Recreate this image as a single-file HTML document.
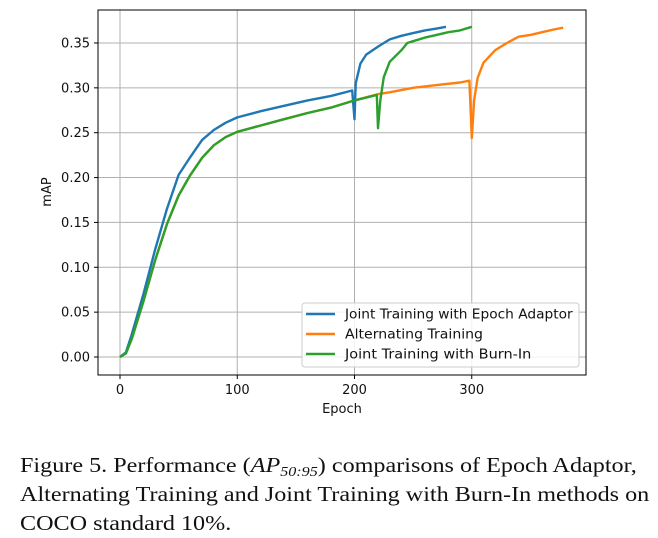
<!DOCTYPE html>
<html><head><meta charset="utf-8">
<style>
body{margin:0;background:#fff;width:658px;height:537px;overflow:hidden;position:relative}
svg{position:absolute;left:0;top:0}
.cap{position:absolute;left:20px;top:451px;font-family:"Liberation Serif",serif;font-size:21px;line-height:29px;color:#111;white-space:nowrap;transform:scaleX(1.15);transform-origin:0 0}
.cap sub{font-size:14px;line-height:0;vertical-align:-4px}
</style></head><body>
<svg width="658" height="440" font-family="DejaVu Sans, Liberation Sans, sans-serif">
<g id="grid"></g><g id="lines"></g><g id="axes"></g><g id="legend"></g>
</svg>
<div class="cap">Figure 5. Performance (<i>AP</i><sub><i>50:95</i></sub>) comparisons of Epoch Adaptor,<br>Alternating Training and Joint Training with Burn-In methods on<br>COCO standard 10%.</div>
<script>
const xTicks=[0,100,200,300];
const yTicks=[0.00,0.05,0.10,0.15,0.20,0.25,0.30,0.35];
const seriesNames=["Joint Training with Epoch Adaptor","Alternating Training","Joint Training with Burn-In"];
const blueEpochs=[0,5,10,20,30,40,50,60,70,80,90,100,120,140,160,180,198,200,201,205,210,220,230,240,250,260,270,278];
const blueMap=[0,0.005,0.025,0.07,0.12,0.165,0.203,0.223,0.242,0.253,0.261,0.267,0.274,0.280,0.286,0.291,0.297,0.265,0.305,0.327,0.337,0.346,0.354,0.358,0.361,0.364,0.366,0.368];
const orangeEpochs=[0,5,10,20,30,40,50,60,70,80,90,100,120,140,160,180,200,220,230,250,270,290,298,300,302,305,310,320,330,340,350,360,370,378];
const orangeMap=[0,0.004,0.02,0.062,0.108,0.148,0.18,0.203,0.222,0.236,0.245,0.251,0.258,0.265,0.272,0.278,0.286,0.293,0.295,0.300,0.303,0.306,0.308,0.244,0.286,0.311,0.328,0.342,0.350,0.357,0.359,0.362,0.365,0.367];
const greenEpochs=[0,5,10,20,30,40,50,60,70,80,90,100,120,140,160,180,200,219,220,222,225,230,240,245,250,260,270,280,290,300];
const greenMap=[0,0.004,0.02,0.062,0.108,0.148,0.18,0.203,0.222,0.236,0.245,0.251,0.258,0.265,0.272,0.278,0.286,0.292,0.255,0.286,0.312,0.329,0.342,0.350,0.352,0.356,0.359,0.362,0.364,0.368];
const colors=["#1f77b4","#ff7f0e","#2ca02c"];
const L=98,R=586,T=10,B=375;
const xs=e=>120+e*1.1725;
const ys=v=>357-v*897.2;
const NS="http://www.w3.org/2000/svg";
function mk(tag,attrs,parent){const el=document.createElementNS(NS,tag);for(const k in attrs)el.setAttribute(k,attrs[k]);parent.appendChild(el);return el;}
const grid=document.getElementById('grid'),axes=document.getElementById('axes'),lines=document.getElementById('lines'),leg=document.getElementById('legend');
xTicks.forEach(t=>{
 const g=mk('line',{x1:xs(t),x2:xs(t),y1:T,y2:B,stroke:'#b0b0b0','stroke-width':1},grid);
 
 
 mk('line',{x1:xs(t),x2:xs(t),y1:B,y2:B+4,stroke:'#000'},axes);
 const tx=mk('text',{x:xs(t),y:B+19,'text-anchor':'middle','font-size':13,fill:'#111'},axes);tx.textContent=t;
 
 
});
yTicks.forEach(t=>{
 const g=mk('line',{x1:L,x2:R,y1:ys(t),y2:ys(t),stroke:'#b0b0b0','stroke-width':1},grid);
 
 
 mk('line',{x1:L-4,x2:L,y1:ys(t),y2:ys(t),stroke:'#000'},axes);
 const tx=mk('text',{x:L-8,y:ys(t)+4.5,'text-anchor':'end','font-size':13,fill:'#111'},axes);tx.textContent=t.toFixed(2);
 
 
});
const fr=mk('rect',{x:L,y:T,width:R-L,height:B-T,fill:'none',stroke:'#000','stroke-width':1},axes);


const xl=mk('text',{x:342,y:413,'text-anchor':'middle','font-size':13,fill:'#111'},axes);xl.textContent='Epoch';


const yl=mk('text',{x:0,y:0,'text-anchor':'middle','font-size':13,fill:'#111',transform:'translate(51,192) rotate(-90)'},axes);yl.textContent='mAP';


const data=[[blueEpochs,blueMap],[orangeEpochs,orangeMap],[greenEpochs,greenMap]];
const order=[1,0,2];
order.forEach(i=>{
 const [ex,ev]=data[i];
 const d=ex.map((e,j)=>(j?'L':'M')+xs(e).toFixed(1)+','+ys(ev[j]).toFixed(1)).join('');
 const p=mk('path',{d:d,fill:'none',stroke:colors[i],'stroke-width':2.4,'stroke-linejoin':'round'},lines);
 
 
});
const lb=mk('rect',{x:302,y:303,width:277,height:64,rx:3,fill:'#fff','fill-opacity':0.85,stroke:'#ccc'},leg);


seriesNames.forEach((n,i)=>{
 const y=314+i*20;
 mk('line',{x1:306,x2:335,y1:y,y2:y,stroke:colors[i],'stroke-width':2.4},leg);
 const t=mk('text',{x:345,y:y+4.5,'font-size':13,fill:'#111',textLength:n.length*6.9,lengthAdjust:'spacingAndGlyphs'},leg);t.textContent=n;
 
 
});
</script>
</body></html>
